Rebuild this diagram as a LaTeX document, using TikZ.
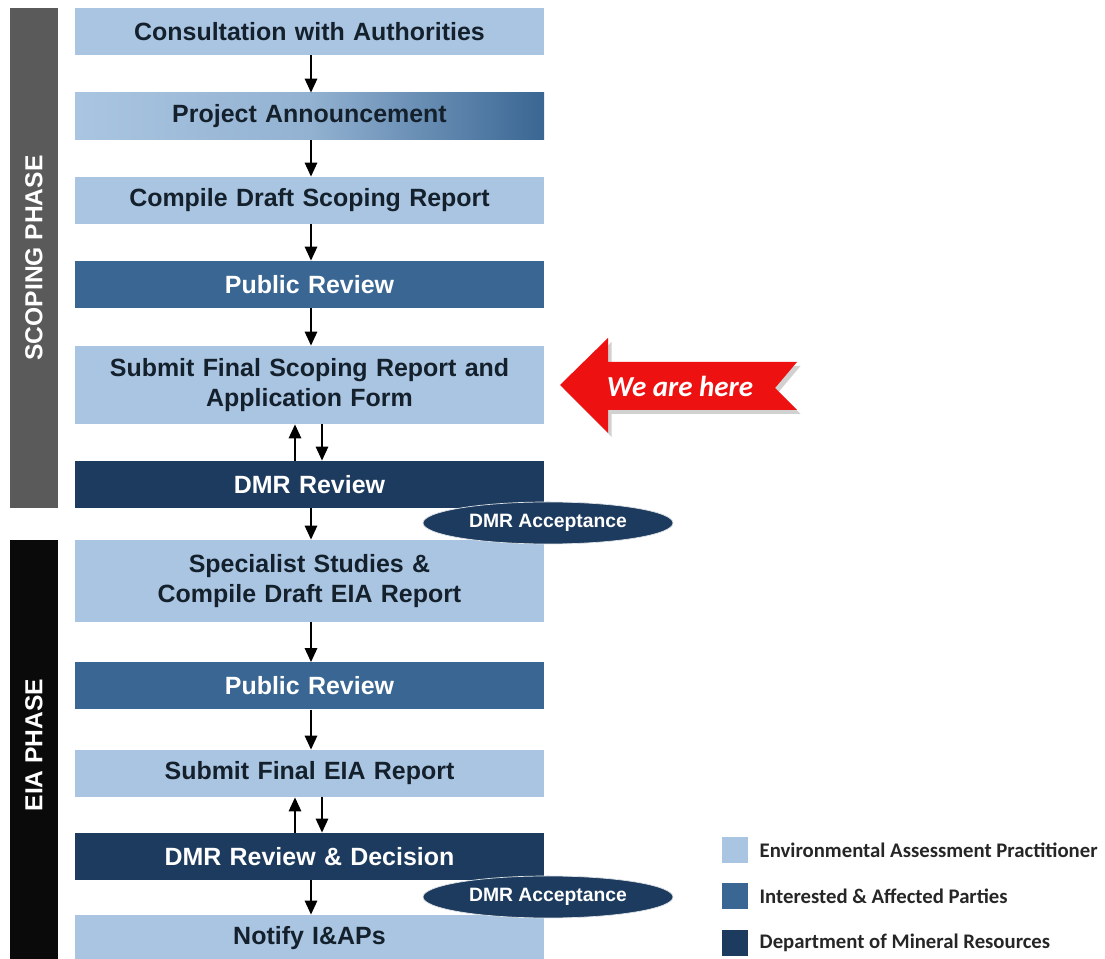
\documentclass[tikz,border=0pt]{standalone}
\usepackage{fontspec}
\setmainfont{Liberation Sans}
\newfontfamily\legendfont{Carlito}
\usepackage{tikz}
\usetikzlibrary{shapes.geometric, arrows.meta, positioning}
\definecolor{eapBlue}{HTML}{A9C5E1}
\definecolor{iapBlue}{HTML}{3A6693}
\definecolor{dmrBlue}{HTML}{1D3B5E}
\definecolor{scopeGray}{HTML}{5A5A5A}
\definecolor{eiaBlack}{HTML}{0A0A0A}
\definecolor{boxText}{HTML}{14202C}
\definecolor{hereRed}{HTML}{EE1111}
\tikzset{
  stepL/.style={rectangle, fill=eapBlue, inner sep=0pt,
                minimum width=9.38cm, minimum height=0.94cm, text width=9.3cm,
                align=center, text=boxText,
                font=\fontsize{14.2}{17}\selectfont\bfseries},
  stepM/.style={stepL, fill=iapBlue, text=white},
  stepD/.style={stepL, fill=dmrBlue, text=white},
  flow/.style={-{Triangle[length=8pt,width=7pt]}, line width=1.2pt, black},
  acceptE/.style={ellipse, fill=dmrBlue, draw=white!85!dmrBlue, inner sep=0pt,
                  minimum width=5cm, minimum height=0.84cm, text=white,
                  font=\fontsize{11}{12}\selectfont\bfseries},
  phaseBar/.style={rectangle, rotate=90, inner sep=0pt, text=white,
                   font=\fontsize{14}{16}\selectfont\bfseries},
  legendBox/.style={rectangle, minimum size=0.52cm, inner sep=0pt},
  legendText/.style={right=0.22cm of #1, inner sep=0pt, text=black!85,
                     font=\legendfont\fontsize{11.8}{13}\selectfont\bfseries},
}
\begin{document}
\begin{tikzpicture}
    \useasboundingbox (0,0) rectangle (22.1,-19.18);
    %% phase bars
    \node[phaseBar, fill=scopeGray, minimum width=10cm, minimum height=0.96cm]
      (scopebar) at (0.68,-5.16) {SCOPING PHASE};
    \fill[eiaBlack] (0.2,-10.8) rectangle (1.16,-19.5);
    \node[phaseBar] (eialabel) at (0.68,-14.9) {EIA PHASE};
    %% scoping steps
    \node[stepL] (consult)  at (6.19,-0.63) {Consultation with Authorities};
    \node[stepL, left color=eapBlue, right color=iapBlue,
          middle color=eapBlue!80!iapBlue] (announce) at (6.19,-2.33)
          {Project Announcement};
    \node[stepL] (draftsr)  at (6.19,-4.01) {Compile Draft Scoping Report};
    \node[stepM] (review1)  at (6.19,-5.69) {Public Review};
    \node[stepL, minimum height=1.56cm] (finalsr) at (6.19,-7.70)
          {Submit Final Scoping Report and\\Application Form};
    \node[stepD] (dmr1)     at (6.19,-9.69) {DMR Review};
    %% EIA steps
    \node[stepL, minimum height=1.64cm] (studies) at (6.19,-11.62)
          {Specialist Studies \&\\Compile Draft EIA Report};
    \node[stepM] (review2)  at (6.19,-13.72) {Public Review};
    \node[stepL] (finaleia) at (6.19,-15.47) {Submit Final EIA Report};
    \node[stepD] (dmr2)     at (6.19,-17.13) {DMR Review \& Decision};
    \node[stepL] (notify)   at (6.19,-18.77) {Notify I\&APs};
    %% acceptance ellipses
    \node[acceptE] (accept1) at (10.96,-10.46) {DMR Acceptance};
    \node[acceptE] (accept2) at (10.96,-17.94) {DMR Acceptance};
    %% arrows
    \draw[flow] ([xshift=0.03cm]consult.south) -- ([xshift=0.03cm]announce.north);
    \draw[flow] ([xshift=0.03cm]announce.south) -- ([xshift=0.03cm]draftsr.north);
    \draw[flow] ([xshift=0.03cm]draftsr.south) -- ([xshift=0.03cm]review1.north);
    \draw[flow] ([xshift=0.03cm]review1.south) -- ([xshift=0.03cm]finalsr.north);
    \draw[flow] ([xshift=-0.29cm]dmr1.north) -- ([xshift=-0.29cm]finalsr.south);
    \draw[flow] ([xshift=0.25cm]finalsr.south) -- ([xshift=0.25cm]dmr1.north);
    \draw[flow] ([xshift=0.03cm]dmr1.south) -- ([xshift=0.03cm]studies.north);
    \draw[flow] ([xshift=0.03cm]studies.south) -- ([xshift=0.03cm]review2.north);
    \draw[flow] ([xshift=0.03cm]review2.south) -- ([xshift=0.03cm]finaleia.north);
    \draw[flow] ([xshift=-0.29cm]dmr2.north) -- ([xshift=-0.29cm]finaleia.south);
    \draw[flow] ([xshift=0.25cm]finaleia.south) -- ([xshift=0.25cm]dmr2.north);
    \draw[flow] ([xshift=0.03cm]dmr2.south) -- ([xshift=0.03cm]notify.north);
    %% "we are here" arrow
    \fill[black, opacity=0.18, shift={(0.07,-0.08)}]
      (11.2,-7.7) -- (12.16,-6.76) -- (12.16,-7.24) -- (15.94,-7.24)
      -- (15.5,-7.76) -- (15.94,-8.2) -- (12.16,-8.2) -- (12.16,-8.66) -- cycle;
    \fill[hereRed]
      (11.2,-7.7) -- (12.16,-6.76) -- (12.16,-7.24) -- (15.94,-7.24)
      -- (15.5,-7.76) -- (15.94,-8.2) -- (12.16,-8.2) -- (12.16,-8.66) -- cycle;
    \node[text=white, font=\legendfont\fontsize{16.5}{18}\selectfont\bfseries\itshape]
      (here) at (13.6,-7.72) {We are here};
    %% legend
    \node[legendBox, fill=eapBlue] (lg1) at (14.7,-17.00) {};
    \node[legendBox, fill=iapBlue] (lg2) at (14.7,-17.92) {};
    \node[legendBox, fill=dmrBlue] (lg3) at (14.7,-18.86) {};
    \node[legendText=lg1] (lgt1) {Environmental Assessment Practitioner};
    \node[legendText=lg2] (lgt2) {Interested \& Affected Parties};
    \node[legendText=lg3] (lgt3) {Department of Mineral Resources};
\end{tikzpicture}
\end{document}
